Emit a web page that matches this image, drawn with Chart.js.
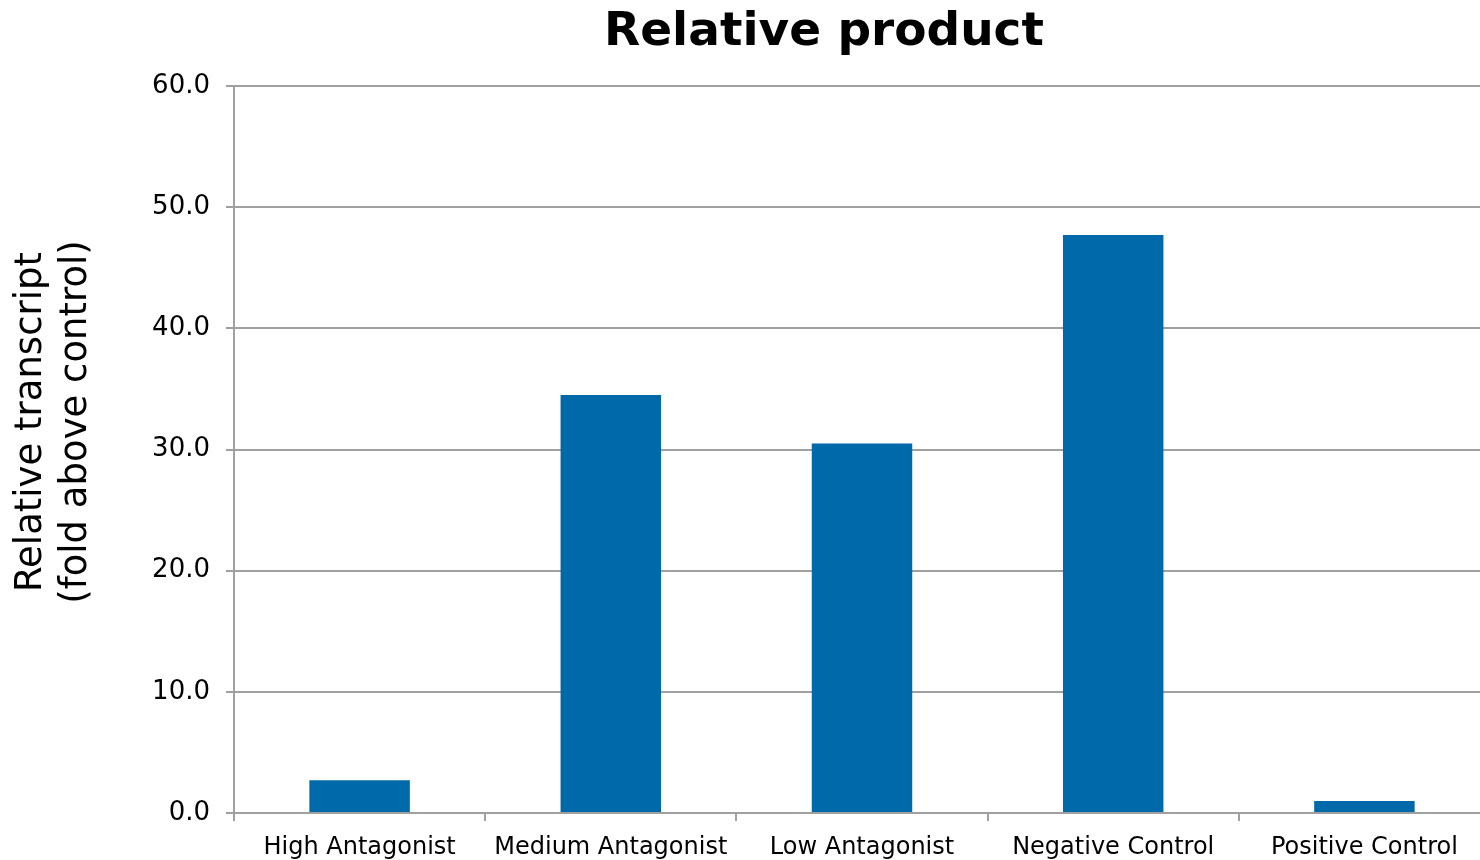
<!DOCTYPE html>
<html>
<head>
<meta charset="utf-8">
<script src="https://cdn.jsdelivr.net/npm/chart.js@4"></script>
<style>
  html, body { margin: 0; padding: 0; background: #fff; overflow: hidden; }
  #wrap { width: 1480px; height: 860px; position: relative; overflow: hidden; }
  #c { position: absolute; left: 0; top: 0; }
</style>
</head>
<body>
<div id="wrap"><canvas id="c" width="1490" height="860"></canvas></div>
<script>
const categories = ['High Antagonist', 'Medium Antagonist', 'Low Antagonist', 'Negative Control', 'Positive Control'];
const relativeTranscript = [2.7, 34.5, 30.5, 47.7, 1.0];
const yTicks = [0, 10, 20, 30, 40, 50, 60];
const chartTitle = 'Relative product';
const yTitleLines = ['Relative transcript', '(fold above control)'];

const FONT = '"DejaVu Sans", Verdana, sans-serif';
const GRID = '#a0a0a0';

// Heading and the two-line value-axis caption
const captionsPlugin = {
  id: 'captions',
  afterDraw(chart) {
    const ctx = chart.ctx;
    ctx.save();
    ctx.fillStyle = '#000';
    ctx.textAlign = 'center';
    ctx.textBaseline = 'middle';
    ctx.font = 'bold 47px ' + FONT;
    ctx.fillText(chartTitle, 824, 33);

    ctx.font = '37px ' + FONT;
    ctx.translate(0, 422);
    ctx.rotate(-Math.PI / 2);
    yTitleLines.forEach((line, i) => ctx.fillText(line, 0, 31 + i * 45));
    ctx.restore();
  }
};

new Chart(document.getElementById('c'), {
  type: 'bar',
  data: {
    labels: categories,
    datasets: [{
      data: relativeTranscript,
      backgroundColor: '#0069aa',
      borderWidth: 0,
      barPercentage: 0.4,
      categoryPercentage: 1.0
    }]
  },
  options: {
    responsive: false,
    animation: false,
    layout: { padding: { top: 86, right: 0, left: 0, bottom: 0 } },
    plugins: { legend: { display: false }, tooltip: { enabled: false } },
    scales: {
      x: {
        offset: true,
        grid: { display: true, drawOnChartArea: false, drawTicks: true, tickLength: 8, color: GRID, lineWidth: 2, offset: true },
        border: { display: true, color: GRID, width: 2 },
        ticks: { color: '#000', font: { family: FONT, size: 24 }, padding: 12, maxRotation: 0, autoSkip: false },
        afterFit(scale) { scale.height = 47; }
      },
      y: {
        min: 0, max: 60,
        afterBuildTicks(scale) { scale.ticks = yTicks.map(v => ({ value: v })); },
        grid: { color: GRID, lineWidth: 2, drawTicks: true, tickLength: 8 },
        border: { display: true, color: GRID, width: 2 },
        ticks: { color: '#000', font: { family: FONT, size: 26 }, padding: 16, callback: v => Number(v).toFixed(1) },
        afterFit(scale) { scale.width = 234; }
      }
    }
  },
  plugins: [captionsPlugin]
});
</script>
</body>
</html>
